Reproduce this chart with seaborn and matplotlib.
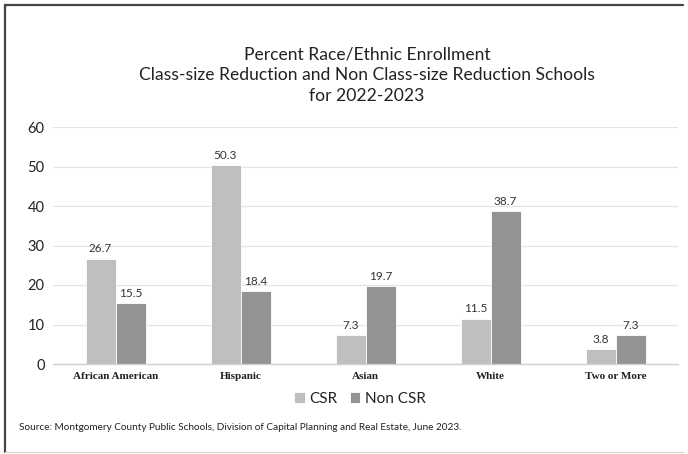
import matplotlib
matplotlib.use("Agg")
import matplotlib.pyplot as plt
from matplotlib.lines import Line2D
import seaborn as sns
import pandas as pd

categories = ["African American", "Hispanic", "Asian", "White", "Two or More"]
csr = [26.7, 50.3, 7.3, 11.5, 3.8]
non_csr = [15.5, 18.4, 19.7, 38.7, 7.3]
series_names = ["CSR", "Non CSR"]
yticks = [0, 10, 20, 30, 40, 50, 60]

df = pd.DataFrame({
    "Group": categories * 2,
    "Series": [series_names[0]] * len(categories) + [series_names[1]] * len(categories),
    "Percent": csr + non_csr,
})

sns.set_theme(style="white")
plt.rcParams["font.family"] = ["Lato", "DejaVu Sans"]

fig = plt.figure(figsize=(6.88, 4.54), dpi=100)
ax = fig.add_axes([53 / 688, 1 - 364 / 454, 625 / 688, 237 / 454])

palette = {"CSR": "#bfbfbf", "Non CSR": "#939393"}
sns.barplot(data=df, x="Group", y="Percent", hue="Series", palette=palette,
            order=categories, hue_order=series_names, width=0.48,
            edgecolor="white", linewidth=0.6, ax=ax, legend=True)

for cont in ax.containers:
    ax.bar_label(cont, fmt="%.1f", padding=3, fontsize=8.5, color="#333333")

ax.set_ylim(0, 60)
ax.set_yticks(yticks)
ax.set_xlim(-0.5, len(categories) - 0.5)
ax.grid(axis="y", color="#e4e4e4", linewidth=0.9)
ax.set_axisbelow(True)
for s in ["top", "right", "left"]:
    ax.spines[s].set_visible(False)
ax.spines["bottom"].set_color("#d0d0d0")
ax.spines["bottom"].set_linewidth(1.0)
ax.tick_params(axis="y", length=0, pad=6, labelsize=10.5, labelcolor="#222222")
ax.tick_params(axis="x", length=0, pad=6)
for lbl in ax.get_xticklabels():
    lbl.set_fontfamily(["Liberation Serif", "DejaVu Serif"])
    lbl.set_fontweight("bold")
    lbl.set_fontsize(8)
    lbl.set_color("#222222")
ax.set_xlabel("")
ax.set_ylabel("")

leg = ax.legend(loc="center", bbox_to_anchor=(360 / 688, 1 - 399 / 454),
                bbox_transform=fig.transFigure, ncol=2, frameon=False,
                fontsize=11, handlelength=0.7, handleheight=0.7,
                handletextpad=0.3, columnspacing=0.8)
for t in leg.get_texts():
    t.set_color("#222222")

fig.text(367 / 688, 1 - 75 / 454,
         "Percent Race/Ethnic Enrollment\n"
         "Class-size Reduction and Non Class-size Reduction Schools\n"
         "for 2022-2023",
         ha="center", va="center", fontsize=12.6, linespacing=1.38, color="#222222")

fig.text(19 / 688, 1 - 428 / 454,
         "Source: Montgomery County Public Schools, Division of Capital Planning and Real Estate, June 2023.",
         ha="left", va="center", fontsize=7.2, color="#222222")

# frame around the figure
fig.add_artist(Line2D([5 / 688, 683 / 688], [1 - 5 / 454, 1 - 5 / 454],
                      transform=fig.transFigure, color="#444444", linewidth=1.6))
fig.add_artist(Line2D([5 / 688, 5 / 688], [1 - 5 / 454, 1 - 452 / 454],
                      transform=fig.transFigure, color="#444444", linewidth=1.6))
fig.add_artist(Line2D([5 / 688, 683 / 688], [1 - 452 / 454, 1 - 452 / 454],
                      transform=fig.transFigure, color="#d8d8d8", linewidth=1.0))

fig.savefig("out.png", dpi=100)
